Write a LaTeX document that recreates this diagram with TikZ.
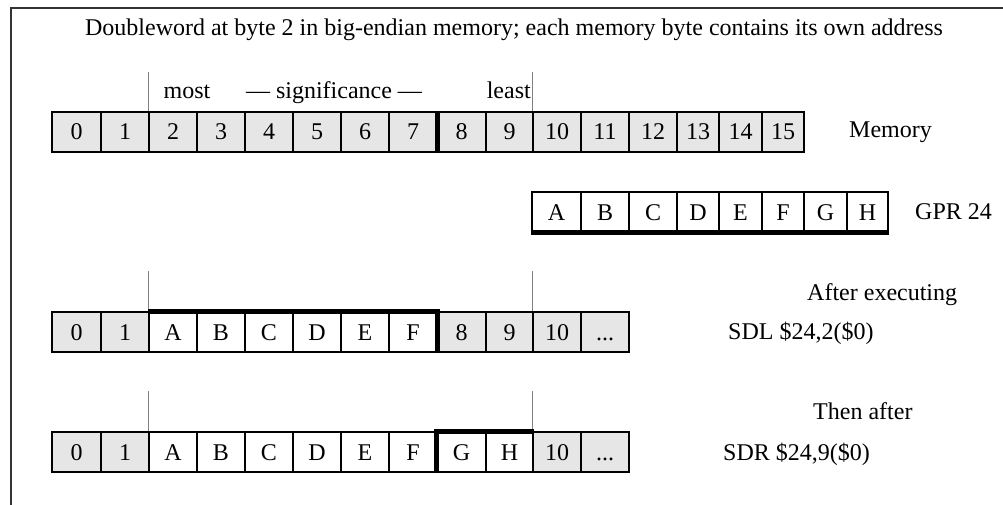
\documentclass[tikz,border=0pt]{standalone}
\usepackage{fontspec}
\setmainfont{Liberation Serif}
\definecolor{memgray}{HTML}{E6E6E6}
\definecolor{guidegray}{HTML}{808080}
\newcommand{\celldots}{...}
\begin{document}
\begin{tikzpicture}[x=1pt,y=-1pt,
  font=\fontsize{24}{28}\selectfont,
  cell/.style={draw=black, line width=1.2pt, minimum height=40pt, inner sep=0pt, text height=16pt, text depth=0pt, anchor=center},
  memcell/.style={cell, fill=memgray},
  datacell/.style={cell, fill=white},
  guide/.style={draw=guidegray, line width=1pt},
  heavy/.style={draw=black, line width=4.5pt, line join=miter},
  lbl/.style={inner sep=0pt}]
\useasboundingbox (0,0) rectangle (1003,505);
\draw[line width=2pt, draw=black!80] (11,505) -- (11,8.5) -- (1003,8.5);

\node[lbl, anchor=base] (title) at (514,36) {Doubleword at byte 2 in big-endian memory; each memory byte contains its own address};

% memory row
\foreach \i/\l/\r in {0/52/101,1/101/149,2/149/197,3/197/245,4/245/293,5/293/341,6/341/389,7/389/437,8/437/486,9/486/533,10/533/581,11/581/629,12/629/677,13/677/719,14/719/762,15/762/804}
  \node[memcell, minimum width={\r pt-\l pt}] (m\i) at ({(\l+\r)/2},132) {\i};
\node[lbl, anchor=base] (most) at (187,99) {most};
\node[lbl, anchor=base] (signif) at (334,99) {--- significance ---};
\node[lbl, anchor=base east] (least) at (531,99) {least};
\node[lbl, anchor=base west] (memlbl) at (849,138) {Memory};
\draw[guide] (m2.north west) -- ++(0,-39);
\draw[guide] (m10.north west) -- ++(0,-39);
\draw[heavy] (m7.north east) -- (m7.south east);

% GPR row
\foreach \i/\t/\l/\r in {1/A/532/581,2/B/581/629,3/C/629/677,4/D/677/719,5/E/719/762,6/F/762/804,7/G/804/847,8/H/847/888}
  \node[datacell, minimum width={\r pt-\l pt}] (g\i) at ({(\l+\r)/2},212) {\t};
\node[lbl, anchor=base west] (gprlbl) at (915,219) {GPR 24};
\draw[heavy] (g1.south west) -- (g8.south east);

% after SDL
\foreach \i/\t/\s/\l/\r in {0/0/memcell/52/101,1/1/memcell/101/149,2/A/datacell/149/197,3/B/datacell/197/245,4/C/datacell/245/293,5/D/datacell/293/341,6/E/datacell/341/389,7/F/datacell/389/437,8/8/memcell/437/486,9/9/memcell/486/533,10/10/memcell/533/581,11/\celldots/memcell/581/629}
  \node[\s, minimum width={\r pt-\l pt}] (s\i) at ({(\l+\r)/2},332) {\t};
\node[lbl, anchor=base west] (after) at (807,300) {After executing};
\node[lbl, anchor=base west] (sdl) at (728,339) {SDL \$24,2(\$0)};
\draw[guide] (s2.north west) -- ++(0,-40);
\draw[guide] (s10.north west) -- ++(0,-40);
\draw[heavy] (s2.north west) -- (s7.north east) -- (s7.south east);

% after SDR
\foreach \i/\t/\s/\l/\r in {0/0/memcell/52/101,1/1/memcell/101/149,2/A/datacell/149/197,3/B/datacell/197/245,4/C/datacell/245/293,5/D/datacell/293/341,6/E/datacell/341/389,7/F/datacell/389/437,8/G/datacell/437/486,9/H/datacell/486/533,10/10/memcell/533/581,11/\celldots/memcell/581/629}
  \node[\s, minimum width={\r pt-\l pt}] (r\i) at ({(\l+\r)/2},452) {\t};
\node[lbl, anchor=base west] (then) at (813,419) {Then after};
\node[lbl, anchor=base west] (sdr) at (723,460) {SDR \$24,9(\$0)};
\draw[guide] (r2.north west) -- ++(0,-40);
\draw[guide] (r10.north west) -- ++(0,-40);
\draw[heavy] (r8.south west) -- (r8.north west) -- (r9.north east);
\end{tikzpicture}
\end{document}
